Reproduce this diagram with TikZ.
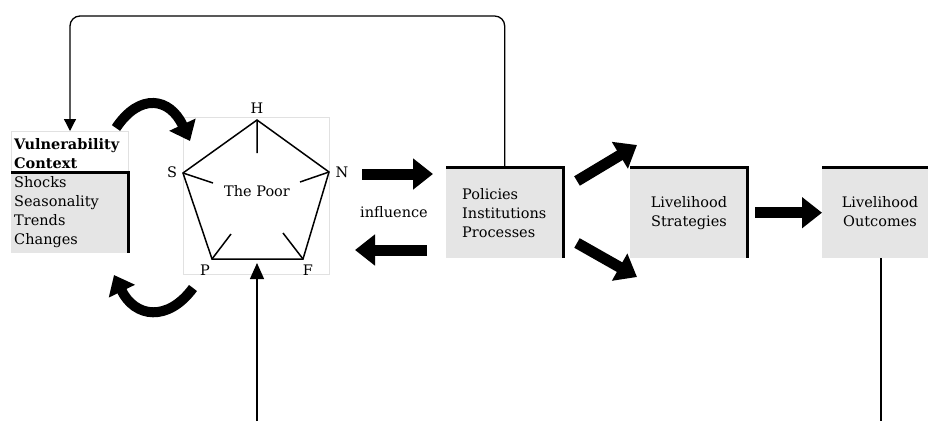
\documentclass[tikz,border=0pt]{standalone}
\usepackage{fontspec}
\setmainfont{DejaVu Serif}
\usetikzlibrary{arrows.meta}
\definecolor{boxgray}{RGB}{229,229,229}
\definecolor{framegray}{RGB}{225,225,225}
\begin{document}
\begin{tikzpicture}[x=1pt,y=-1pt,
  txt/.style={font=\fontsize{14.5}{19}\selectfont, inner sep=0pt},
  lft/.style={txt, anchor=base west},
  ctr/.style={txt, anchor=base},
  gbox/.style={fill=boxgray, draw=none, inner sep=0pt},
  edgeline/.style={line width=3pt},
  bigarrow/.style={line width=11pt, -{Triangle[length=20pt,width=30pt]}},
  curvearrow/.style={line width=10pt, -{Triangle[length=18pt,width=28pt]}},
  thinarrow/.style={line width=1.3pt, -{Triangle[length=16pt,width=14pt]}}]
\useasboundingbox (0,0) rectangle (928,421);
% Vulnerability context
\node[draw=framegray, line width=0.6pt, minimum width=117pt, minimum height=41pt, inner sep=0pt, anchor=north west] (vt) at (11,131) {};
\node[gbox, minimum width=117pt, minimum height=81pt, anchor=north west] (vb) at (11,172) {};
\draw[edgeline] (vb.north west) -- (vb.north east) -- (vb.south east);
\node[lft, font=\bfseries\fontsize{14.5}{19}\selectfont] (vt1) at (14,149) {Vulnerability};
\node[lft, font=\bfseries\fontsize{14.5}{19}\selectfont] (vt2) at (14,168) {Context};
\node[lft] (vl1) at (14,187) {Shocks};
\node[lft] (vl2) at (14,206) {Seasonality};
\node[lft] (vl3) at (14,225) {Trends};
\node[lft] (vl4) at (14,244) {Changes};
% Pentagon
\node[draw=framegray, line width=0.6pt, minimum width=146pt, minimum height=157pt, inner sep=0pt, anchor=north west] (pframe) at (183,117) {};
\coordinate (H) at (257,120);
\coordinate (N) at (329,172);
\coordinate (F) at (303,259);
\coordinate (P) at (212,259);
\coordinate (S) at (183,173);
\draw[line width=1.5pt, line join=miter] (H) -- (N) -- (F) -- (P) -- (S) -- cycle;
\coordinate (Hi) at (257,153);
\coordinate (Ni) at (300,182);
\coordinate (Fi) at (283,233);
\coordinate (Pi) at (231,234);
\coordinate (Si) at (213,183);
\draw[line width=1.5pt] (H) -- (Hi) (N) -- (Ni) (F) -- (Fi) (P) -- (Pi) (S) -- (Si);
\node[ctr] (poor) at (257,196) {The Poor};
\node[ctr] (lH) at (257,113) {H};
\node[ctr] (lS) at (172,177) {S};
\node[ctr] (lN) at (342,177) {N};
\node[ctr] (lP) at (205,275) {P};
\node[ctr] (lF) at (308,275) {F};
% Policies box
\node[gbox, minimum width=117pt, minimum height=91pt, anchor=north west] (pol) at (446,167) {};
\draw[edgeline] (pol.north west) -- (pol.north east) -- (pol.south east);
\node[lft] (po1) at (462,199) {Policies};
\node[lft] (po2) at (462,218) {Institutions};
\node[lft] (po3) at (462,237) {Processes};
\node[ctr] (infl) at (394,217) {influence};
% Livelihood strategies
\node[gbox, minimum width=117pt, minimum height=91pt, anchor=north west] (ls) at (630,167) {};
\draw[edgeline] (ls.north west) -- (ls.north east) -- (ls.south east);
\node[ctr] (ls1) at (689,207) {Livelihood};
\node[ctr] (ls2) at (689,226) {Strategies};
% Livelihood outcomes
\node[gbox, minimum width=106pt, minimum height=91pt, anchor=north west] (lo) at (822,167) {};
\draw[edgeline] (lo.north west) -- (lo.north east);
\node[ctr] (lo1) at (880,207) {Livelihood};
\node[ctr] (lo2) at (880,226) {Outcomes};
% Thick straight arrows
\coordinate (a1s) at (362,174);
\coordinate (a1e) at (433,174);
\draw[bigarrow] (a1s) -- (a1e);
\coordinate (a2s) at (427,250);
\coordinate (a2e) at (355,250);
\draw[bigarrow] (a2s) -- (a2e);
\coordinate (a3s) at (577,181);
\coordinate (a3e) at (637,145);
\draw[bigarrow] (a3s) -- (a3e);
\coordinate (a4s) at (577,243);
\coordinate (a4e) at (637,277);
\draw[bigarrow] (a4s) -- (a4e);
\draw[bigarrow] (ls.east) ++(8,0) coordinate (a5s) -- (lo.west) coordinate (a5e);
% Curved arrows
\coordinate (c1s) at (116,128);
\coordinate (c1e) at (190,141);
\draw[curvearrow] (c1s) .. controls (140,92) and (170,98) .. (c1e);
\coordinate (c2s) at (193,288);
\coordinate (c2e) at (114,275);
\draw[curvearrow] (c2s) .. controls (168,322) and (135,318) .. (c2e);
% Feedback loop
\coordinate (topL) at (70,16);
\draw[line width=1.3pt, rounded corners=10pt, -{Triangle[length=12pt,width=12pt]}] (pol.north) |- (topL) -- (vt.north -| topL);
% Bottom lines
\coordinate (bot1) at (257,421);
\draw[thinarrow] (bot1) -- (257,263) coordinate (botend);
\coordinate (bot2) at (881,421);
\draw[line width=1.3pt] (lo.south -| bot2) -- (bot2);
\end{tikzpicture}
\end{document}
